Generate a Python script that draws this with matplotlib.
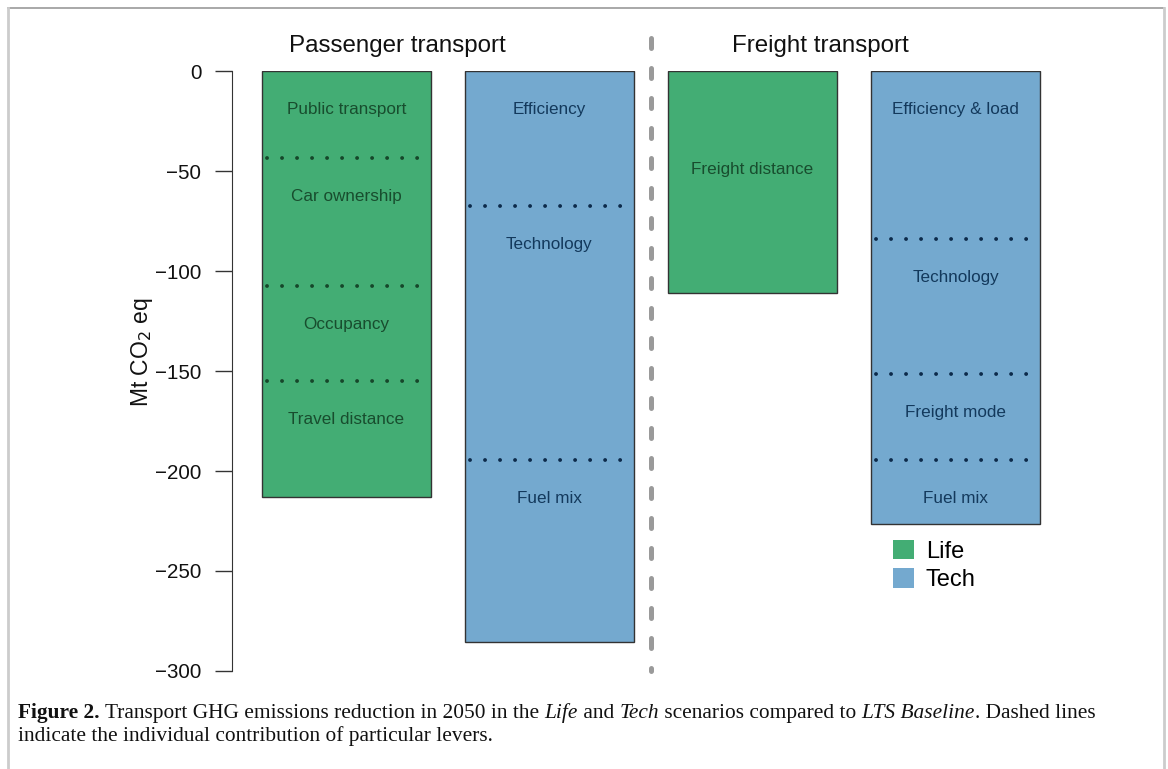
import matplotlib.pyplot as plt
from matplotlib.patches import Patch
from matplotlib.lines import Line2D

plt.rcParams['font.family'] = ['Liberation Sans', 'DejaVu Sans']

# data: reduction per lever (Mt CO2 eq), stacked from 0 downwards
bars = ['Passenger Life', 'Passenger Tech', 'Freight Life', 'Freight Tech']
scenario = ['Life', 'Tech', 'Life', 'Tech']
levers = [
    ['Public transport', 'Car ownership', 'Occupancy', 'Travel distance'],
    ['Efficiency', 'Technology', 'Fuel mix'],
    ['Freight distance'],
    ['Efficiency & load', 'Technology', 'Freight mode', 'Fuel mix'],
]
contrib = [
    [43.5, 64.0, 47.5, 58.0],
    [67.5, 127.0, 91.0],
    [111.0],
    [84.0, 67.5, 43.0, 32.0],
]
group_titles = ['Passenger transport', 'Freight transport']
yticks = [0, -50, -100, -150, -200, -250, -300]

fill = {'Life': '#43ad74', 'Tech': '#74a9cf'}
ink = {'Life': '#184d2e', 'Tech': '#13395c'}
dots = {'Life': '#16472a', 'Tech': '#0c2a4a'}

W, H = 1168, 769
fig = plt.figure(figsize=(W / 100, H / 100), dpi=100)
ax = fig.add_axes([232 / W, 1 - 671 / H, (1100 - 232) / W, 600 / H])
ax.set_xlim(0.024, 5.154)
ax.set_ylim(-300, 0)

centers = [0.7 + 1.2 * i for i in range(len(bars))]
for xc, sc, labs, vals in zip(centers, scenario, levers, contrib):
    top = 0.0
    for j, (lab, v) in enumerate(zip(labs, vals)):
        if j > 0:
            ax.plot([xc - 0.47, xc + 0.5], [top, top], color=dots[sc], lw=2.8,
                    linestyle=(0, (0.01, 3.85)), dash_capstyle='round', zorder=3)
        ly = top - 19 if lab != 'Freight distance' else -49
        ax.text(xc, ly, lab, ha='center', va='center', fontsize=12.3,
                color=ink[sc], zorder=4)
        top -= v
    ax.bar(xc, top, width=1.0, bottom=0, color=fill[sc], edgecolor='#333333',
           linewidth=1.0, align='center', zorder=2)

# separator between passenger and freight
ax.plot([2.5, 2.5], [16.5, -300], color='#9a9a9a', lw=3.6,
        linestyle=(0, (2, 4)), dash_capstyle='round', clip_on=False, zorder=1)

for xt, t in zip([1.0, 3.5], group_titles):
    ax.text(xt, 12.5, t, ha='center', va='center', fontsize=17.4, color='#111111',
            clip_on=False)

for s in ['top', 'right', 'bottom']:
    ax.spines[s].set_visible(False)
ax.spines['left'].set_bounds(-300, 0)
ax.spines['left'].set_color('#333333')
ax.set_xticks([])
ax.set_yticks(yticks)
ax.set_yticklabels(['\u2212' + str(-v) if v else '0' for v in yticks])
ax.tick_params(axis='y', length=12, width=1, colors='#333333', labelsize=14.8,
               pad=10, labelcolor='#111111')
fig.text(142 / W, 1 - 352 / H, 'Mt CO$_2$ eq', rotation=90, ha='center',
         va='center', fontsize=16.5, color='#111111')

handles = [Patch(facecolor=fill['Life'], edgecolor='none', label='Life'),
           Patch(facecolor=fill['Tech'], edgecolor='none', label='Tech')]
fig.legend(handles=handles, loc='upper left', bbox_to_anchor=(881 / W, 1 - 528 / H),
           frameon=False, fontsize=17, handlelength=0.9, handleheight=0.9,
           handletextpad=0.5, labelspacing=0.22, borderpad=0)

# frame around the figure
fig.add_artist(Line2D([8 / W, 1164 / W], [1 - 8 / H, 1 - 8 / H], color='#999999', lw=1.2))
fig.add_artist(Line2D([8 / W, 8 / W], [0, 1 - 8 / H], color='#cccccc', lw=2))
fig.add_artist(Line2D([1164 / W, 1164 / W], [0, 1 - 8 / H], color='#cccccc', lw=2))

# caption, built piece by piece
serif = ['Liberation Serif', 'DejaVu Serif']
pieces = [('Figure 2.', 'bold', 'normal'),
          (' Transport GHG emissions reduction in 2050 in the ', 'normal', 'normal'),
          ('Life', 'normal', 'italic'), (' and ', 'normal', 'normal'),
          ('Tech', 'normal', 'italic'),
          (' scenarios compared to ', 'normal', 'normal'),
          ('LTS Baseline', 'normal', 'italic'),
          ('. Dashed lines', 'normal', 'normal')]
fig.canvas.draw()
r = fig.canvas.get_renderer()
x = 18
for txt, wt, st in pieces:
    t = fig.text(x / W, 1 - 718 / H, txt, fontsize=15.4, family=serif,
                 weight=wt, style=st, va='baseline', color='#111111')
    x = t.get_window_extent(r).x1
fig.text(18 / W, 1 - 741 / H, 'indicate the individual contribution of particular levers.',
         fontsize=15.4, family=serif, va='baseline', color='#111111')

fig.savefig('out.png', dpi=100)
